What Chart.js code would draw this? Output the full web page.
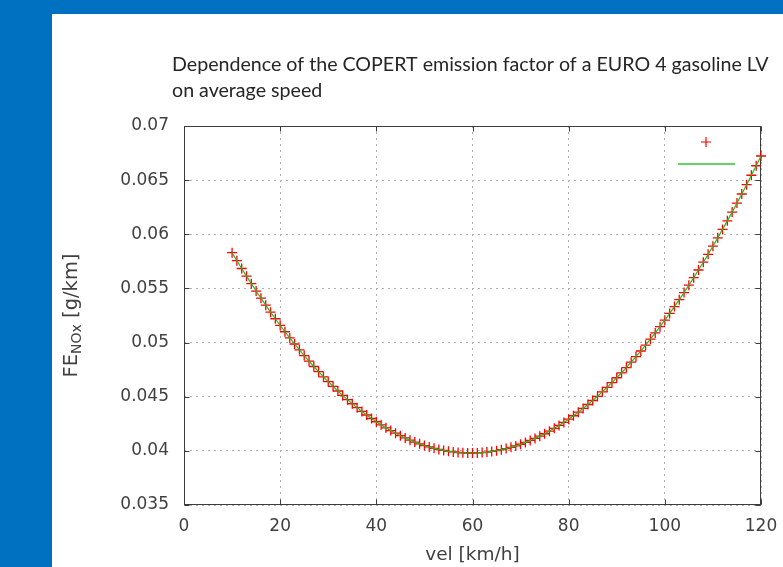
<!DOCTYPE html>
<html>
<head>
<meta charset="utf-8">
<script src="https://cdn.jsdelivr.net/npm/chart.js@4.4.1/dist/chart.umd.min.js"></script>
<style>
  html, body { margin: 0; padding: 0; background: #0070c0; overflow: hidden; }
  #panel { position: absolute; left: 52px; top: 14px; width: 731px; height: 553px; background: #fff; }
</style>
</head>
<body>
<div id="panel"><canvas id="chart" width="731" height="553"></canvas></div>
<script>
const titleLines = ["Dependence of the COPERT emission factor of a EURO 4 gasoline LV", "on average speed"];
const xTitle = "vel [km/h]";

const speeds = [
  10, 11, 12, 13, 14, 15, 16, 17, 18, 19, 20, 21, 22, 23, 24, 25, 26, 27, 28, 29,
  30, 31, 32, 33, 34, 35, 36, 37, 38, 39, 40, 41, 42, 43, 44, 45, 46, 47, 48, 49,
  50, 51, 52, 53, 54, 55, 56, 57, 58, 59, 60, 61, 62, 63, 64, 65, 66, 67, 68, 69,
  70, 71, 72, 73, 74, 75, 76, 77, 78, 79, 80, 81, 82, 83, 84, 85, 86, 87, 88, 89,
  90, 91, 92, 93, 94, 95, 96, 97, 98, 99, 100, 101, 102, 103, 104, 105, 106, 107, 108, 109,
  110, 111, 112, 113, 114, 115, 116, 117, 118, 119, 120
];

// FE NOx [g/km]
const feNox = [
  0.05830, 0.05756, 0.05684, 0.05613, 0.05544, 0.05476, 0.05410, 0.05345, 0.05281, 0.05220,
  0.05159, 0.05100, 0.05043, 0.04987, 0.04933, 0.04880, 0.04829, 0.04779, 0.04731, 0.04684,
  0.04639, 0.04595, 0.04553, 0.04512, 0.04473, 0.04435, 0.04399, 0.04364, 0.04331, 0.04299,
  0.04269, 0.04240, 0.04213, 0.04187, 0.04163, 0.04140, 0.04119, 0.04099, 0.04081, 0.04065,
  0.04049, 0.04036, 0.04023, 0.04013, 0.04004, 0.03996, 0.03990, 0.03985, 0.03982, 0.03980,
  0.03980, 0.03981, 0.03984, 0.03989, 0.03995, 0.04002, 0.04011, 0.04021, 0.04033, 0.04046,
  0.04061, 0.04078, 0.04096, 0.04115, 0.04136, 0.04158, 0.04182, 0.04208, 0.04235, 0.04263,
  0.04293, 0.04324, 0.04357, 0.04392, 0.04428, 0.04465, 0.04504, 0.04545, 0.04587, 0.04630,
  0.04675, 0.04721, 0.04769, 0.04819, 0.04870, 0.04922, 0.04976, 0.05032, 0.05089, 0.05147,
  0.05207, 0.05269, 0.05332, 0.05396, 0.05462, 0.05530, 0.05599, 0.05670, 0.05742, 0.05815,
  0.05890, 0.05967, 0.06045, 0.06124, 0.06205, 0.06288, 0.06372, 0.06458, 0.06545, 0.06633,
  0.06723
];

const points = speeds.map((v, i) => ({ x: v, y: feNox[i] }));

const textColor = "#404040";
const tickFont = { family: "DejaVu Sans", size: 17 };

// gnuplot-like frame, inward ticks, titles and the unlabeled key
const decor = {
  id: "decor",
  beforeDatasetsDraw(chart) {
    const { ctx, chartArea: a, scales } = chart;
    const l = Math.round(a.left) + 0.5, r = Math.round(a.right) - 0.5;
    const t = Math.round(a.top) + 0.5, b = Math.round(a.bottom) - 0.5;
    ctx.save();
    ctx.strokeStyle = "#3c3c3c";
    ctx.lineWidth = 1;
    ctx.beginPath();
    scales.x.ticks.forEach(tk => {
      const px = Math.round(scales.x.getPixelForValue(tk.value)) + 0.5;
      ctx.moveTo(px, b); ctx.lineTo(px, b - 5);
      ctx.moveTo(px, t); ctx.lineTo(px, t + 5);
    });
    scales.y.ticks.forEach(tk => {
      const py = Math.round(scales.y.getPixelForValue(tk.value)) + 0.5;
      ctx.moveTo(l, py); ctx.lineTo(l + 5, py);
      ctx.moveTo(r, py); ctx.lineTo(r - 5, py);
    });
    ctx.stroke();
    ctx.strokeRect(l, t, r - l, b - t);
    ctx.restore();
  },
  afterDraw(chart) {
    const { ctx, chartArea: a } = chart;
    ctx.save();
    // title, fitted to the reference width
    ctx.fillStyle = "#262626";
    ctx.textBaseline = "alphabetic";
    ctx.font = '18px "Lato"';
    const w = ctx.measureText(titleLines[0]).width;
    const size = 18 * 597 / w;
    ctx.font = size.toFixed(2) + 'px "Lato"';
    ctx.fillText(titleLines[0], a.left - 12, 57);
    ctx.fillText(titleLines[1], a.left - 12, 83);

    // y axis title with subscript
    ctx.fillStyle = textColor;
    ctx.translate(25, (a.top + a.bottom) / 2);
    ctx.rotate(-Math.PI / 2);
    const big = '19.5px "DejaVu Sans"', small = '14px "DejaVu Sans"';
    ctx.font = big;
    const w1 = ctx.measureText("FE").width;
    const w3 = ctx.measureText(" [g/km]").width;
    ctx.font = small;
    const w2 = ctx.measureText("NOx").width;
    let sx = -(w1 + w2 + w3) / 2;
    ctx.font = big;
    ctx.fillText("FE", sx, 0);
    ctx.font = small;
    ctx.fillText("NOx", sx + w1, 4);
    ctx.font = big;
    ctx.fillText(" [g/km]", sx + w1 + w2, 0);
    ctx.restore();

    // key (no labels)
    ctx.save();
    ctx.strokeStyle = "#ff0000";
    ctx.lineWidth = 1.2;
    const cx = a.right - 55, cy = a.top + 16;
    ctx.beginPath();
    ctx.moveTo(cx - 5, cy); ctx.lineTo(cx + 5, cy);
    ctx.moveTo(cx, cy - 5); ctx.lineTo(cx, cy + 5);
    ctx.stroke();
    ctx.strokeStyle = "#33c033";
    ctx.lineWidth = 1.5;
    ctx.beginPath();
    ctx.moveTo(a.right - 83, a.top + 38);
    ctx.lineTo(a.right - 26, a.top + 38);
    ctx.stroke();
    ctx.restore();
  }
};

const ctx = document.getElementById("chart").getContext("2d");
new Chart(ctx, {
  type: "line",
  data: {
    datasets: [
      {
        label: "",
        data: points,
        borderColor: "#22bb22",
        borderWidth: 1.2,
        pointRadius: 0,
        fill: false,
        tension: 0,
        clip: false,
        order: 0
      },
      {
        label: "",
        data: points,
        showLine: false,
        pointStyle: "cross",
        pointRadius: 5,
        pointBorderWidth: 1.3,
        pointBorderColor: "#ff0000",
        pointBackgroundColor: "#ff0000",
        clip: false,
        order: 1
      }
    ]
  },
  options: {
    responsive: false,
    animation: false,
    events: [],
    layout: { padding: { top: 112, right: 22, left: 0, bottom: 0 } },
    plugins: {
      legend: { display: false },
      title: { display: false },
      tooltip: { enabled: false }
    },
    scales: {
      x: {
        type: "linear",
        min: 0,
        max: 120,
        ticks: { stepSize: 20, color: textColor, font: tickFont, padding: 11 },
        grid: { color: "#b0b0b0", lineWidth: 1, drawTicks: false },
        border: { display: false, dash: [2, 4] },
        title: { display: true, text: xTitle, color: textColor, font: { family: "DejaVu Sans", size: 18.5 }, padding: { top: 0, bottom: 1 } },
        afterFit: s => { s.height = 62; s.paddingLeft = 0; s.paddingRight = 0; }
      },
      y: {
        type: "linear",
        min: 0.035,
        max: 0.07,
        ticks: {
          stepSize: 0.005,
          color: textColor,
          font: tickFont,
          padding: 15,
          callback: v => String(Number(v.toFixed(3)))
        },
        grid: { color: "#b0b0b0", lineWidth: 1, drawTicks: false },
        border: { display: false, dash: [2, 4] },
        afterFit: s => { s.width = 132; s.paddingTop = 0; s.paddingBottom = 0; }
      }
    }
  },
  plugins: [decor]
});
</script>
</body>
</html>
